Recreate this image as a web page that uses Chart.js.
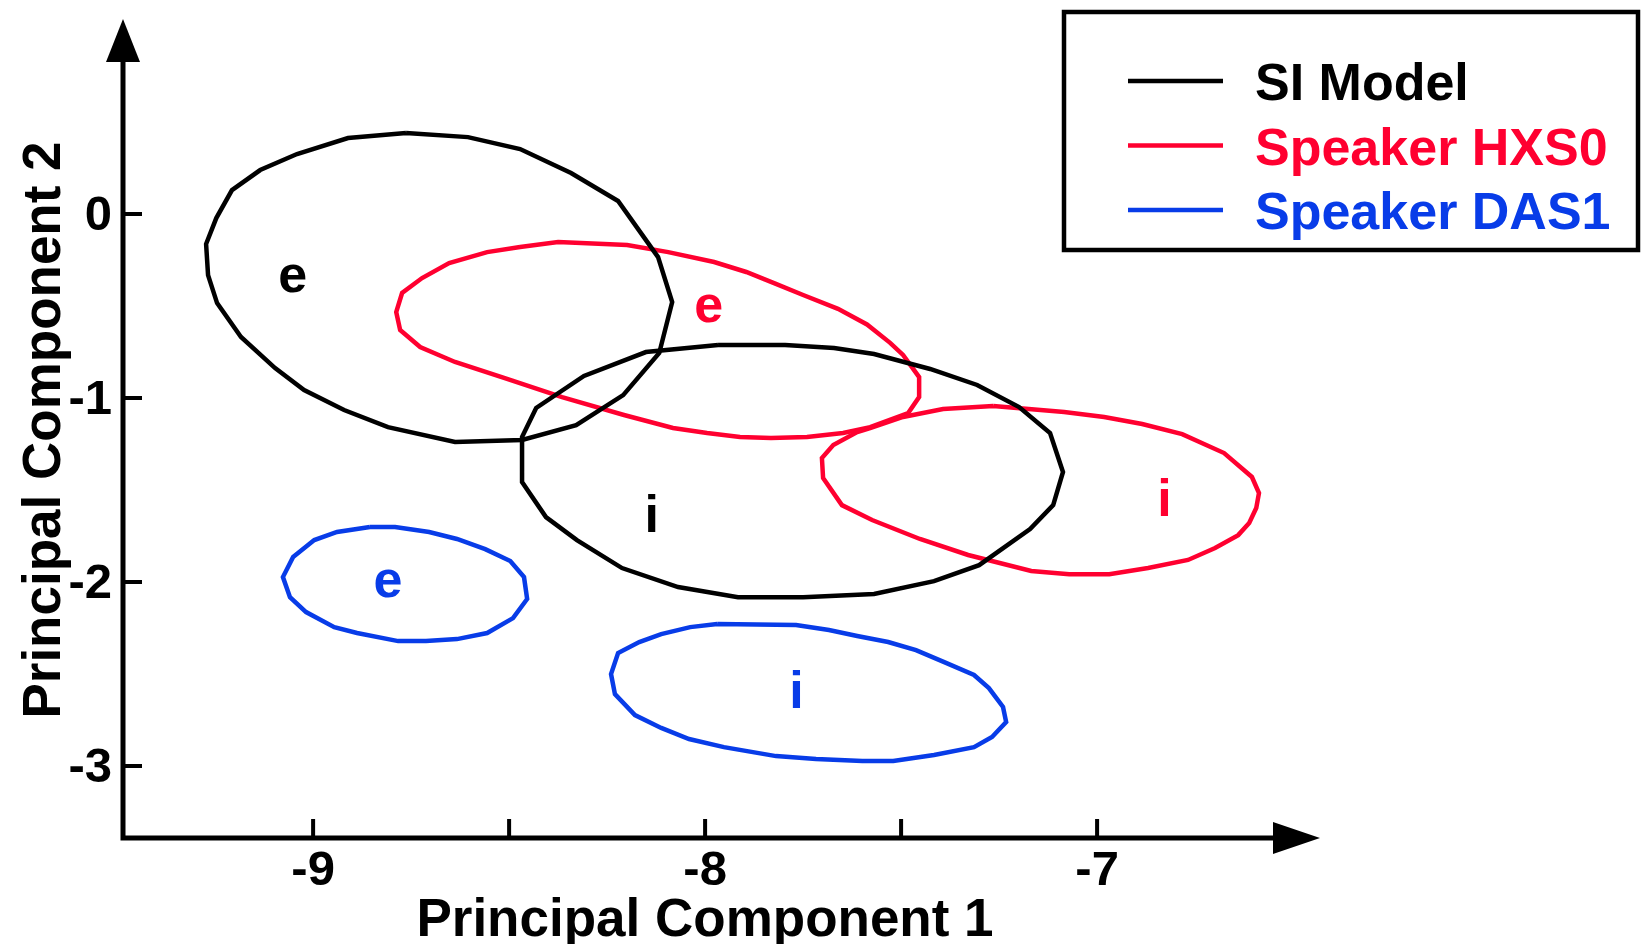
<!DOCTYPE html>
<html>
<head>
<meta charset="utf-8">
<script src="https://cdn.jsdelivr.net/npm/chart.js@4.4.1/dist/chart.umd.min.js"></script>
<style>
    html, body { margin: 0; padding: 0; background: #fff; }
    canvas { display: block; }
</style>
</head>
<body>
<canvas id="pcaChart" width="1646" height="944"></canvas>
<script>
// Series (legend entries) and their colours.
var seriesNames = ['SI Model', 'Speaker HXS0', 'Speaker DAS1'];
var seriesColors = ['#000000', '#ff0030', '#083ce8'];

// Axis ticks.
var xTicks = [-9, -8, -7];
var xMinorTicks = [-8.5, -7.5];
var yTicks = [0, -1, -2, -3];

// Contours, [PC1, PC2] pairs.
var siModelE = [
    [-8.763, 0.440], [-8.605, 0.418], [-8.472, 0.353], [-8.342, 0.223], [-8.222, 0.071],
    [-8.120, -0.234], [-8.084, -0.478], [-8.117, -0.755], [-8.209, -0.984], [-8.329, -1.147],
    [-8.467, -1.228], [-8.638, -1.239], [-8.809, -1.158], [-8.921, -1.065], [-9.023, -0.957],
    [-9.097, -0.837], [-9.184, -0.668], [-9.245, -0.484], [-9.268, -0.332], [-9.273, -0.163],
    [-9.247, -0.022], [-9.207, 0.130], [-9.135, 0.239], [-9.041, 0.326], [-8.911, 0.413]
];
var siModelI = [
    [-7.967, -0.712], [-7.796, -0.712], [-7.671, -0.728], [-7.569, -0.761], [-7.426, -0.842],
    [-7.306, -0.929], [-7.199, -1.049], [-7.120, -1.190], [-7.087, -1.402], [-7.112, -1.582],
    [-7.171, -1.712], [-7.301, -1.908], [-7.416, -1.995], [-7.569, -2.065], [-7.750, -2.082],
    [-7.916, -2.082], [-8.069, -2.027], [-8.212, -1.924], [-8.327, -1.772], [-8.406, -1.647],
    [-8.467, -1.457], [-8.467, -1.212], [-8.431, -1.054], [-8.309, -0.880], [-8.151, -0.750]
];
var hxs0E = [
    [-8.472, -0.179], [-8.375, -0.152], [-8.199, -0.168], [-8.094, -0.207], [-7.977, -0.261],
    [-7.895, -0.315], [-7.821, -0.378], [-7.750, -0.440], [-7.661, -0.515], [-7.587, -0.600],
    [-7.528, -0.700], [-7.495, -0.766], [-7.454, -0.886], [-7.454, -0.995], [-7.482, -1.082],
    [-7.579, -1.158], [-7.648, -1.190], [-7.740, -1.212], [-7.832, -1.217], [-7.911, -1.212],
    [-7.995, -1.190], [-8.082, -1.163], [-8.207, -1.092], [-8.365, -0.995], [-8.513, -0.891],
    [-8.638, -0.804], [-8.727, -0.723], [-8.778, -0.630], [-8.788, -0.533], [-8.773, -0.429],
    [-8.722, -0.348], [-8.653, -0.266], [-8.556, -0.207]
];
var hxs0I = [
    [-7.265, -1.043], [-7.084, -1.076], [-6.982, -1.103], [-6.885, -1.141], [-6.783, -1.196],
    [-6.676, -1.299], [-6.605, -1.429], [-6.587, -1.516], [-6.594, -1.598], [-6.612, -1.679],
    [-6.640, -1.745], [-6.699, -1.815], [-6.768, -1.880], [-6.870, -1.924], [-6.969, -1.957],
    [-7.071, -1.957], [-7.168, -1.940], [-7.329, -1.853], [-7.452, -1.766], [-7.574, -1.663],
    [-7.651, -1.582], [-7.699, -1.435], [-7.702, -1.326], [-7.673, -1.255], [-7.612, -1.185],
    [-7.579, -1.163], [-7.495, -1.103], [-7.393, -1.060]
];
var das1E = [
    [-8.855, -1.701], [-8.791, -1.701], [-8.704, -1.728], [-8.633, -1.766], [-8.561, -1.821],
    [-8.497, -1.886], [-8.462, -1.973], [-8.454, -2.092], [-8.490, -2.196], [-8.556, -2.277],
    [-8.633, -2.310], [-8.712, -2.321], [-8.783, -2.321], [-8.888, -2.277], [-8.946, -2.245],
    [-9.018, -2.163], [-9.059, -2.082], [-9.077, -1.973], [-9.051, -1.864], [-8.997, -1.772],
    [-8.939, -1.728]
];
var das1I = [
    [-7.969, -2.228], [-7.768, -2.234], [-7.684, -2.261], [-7.612, -2.293], [-7.533, -2.326],
    [-7.462, -2.370], [-7.390, -2.435], [-7.314, -2.505], [-7.276, -2.576], [-7.240, -2.679],
    [-7.232, -2.761], [-7.268, -2.842], [-7.314, -2.897], [-7.416, -2.940], [-7.520, -2.973],
    [-7.599, -2.973], [-7.717, -2.962], [-7.819, -2.946], [-7.952, -2.897], [-8.041, -2.853],
    [-8.112, -2.793], [-8.179, -2.723], [-8.230, -2.609], [-8.240, -2.500], [-8.222, -2.386],
    [-8.168, -2.326], [-8.112, -2.283], [-8.038, -2.245]
];

// Vowel labels: text, series index, PC1, PC2 (baseline point).
var vowelLabels = [
    ['e', 0, -9.052, -0.424],
    ['i', 0, -8.136, -1.728],
    ['e', 1, -7.991, -0.587],
    ['i', 1, -6.828, -1.639],
    ['e', 2, -8.809, -2.082],
    ['i', 2, -7.767, -2.682]
];

var FONT = '"Liberation Sans", Arial, Helvetica, sans-serif';

function toPoints(pairs) {
    // Close the contour by repeating the first vertex.
    var pts = pairs.map(function(p) {
        return {x: p[0], y: p[1]};
    });
    pts.push({x: pairs[0][0], y: pairs[0][1]});
    return pts;
}

function contour(pairs, series) {
    return {
        label: seriesNames[series],
        series: series,
        data: toPoints(pairs),
        showLine: true,
        fill: false,
        tension: 0,
        borderColor: seriesColors[series],
        borderWidth: 4.5,
        borderJoinStyle: 'miter',
        pointRadius: 0,
        pointHoverRadius: 0
    };
}

var axesPlugin = {
    id: 'paperAxes',
    afterDraw: function(chart) {
        var ctx = chart.ctx;
        var xs = chart.scales.x;
        var ys = chart.scales.y;
        var area = chart.chartArea;
        var ox = area.left;
        var oy = area.bottom;
        var tickLen = 19;

        ctx.save();
        ctx.strokeStyle = '#000';
        ctx.fillStyle = '#000';
        ctx.lineWidth = 5;
        ctx.lineCap = 'butt';

        // Axis lines.
        ctx.beginPath();
        ctx.moveTo(ox, oy + 2.5);
        ctx.lineTo(ox, area.top + 40);
        ctx.moveTo(ox - 2.5, oy);
        ctx.lineTo(area.right - 40, oy);
        ctx.stroke();

        // Arrow heads.
        ctx.beginPath();
        ctx.moveTo(ox, area.top - 2);
        ctx.lineTo(ox - 17, area.top + 41);
        ctx.lineTo(ox + 17, area.top + 41);
        ctx.closePath();
        ctx.fill();
        ctx.beginPath();
        ctx.moveTo(area.right + 3, oy);
        ctx.lineTo(area.right - 44, oy - 16);
        ctx.lineTo(area.right - 44, oy + 16);
        ctx.closePath();
        ctx.fill();

        // Ticks, drawn inward.
        ctx.lineWidth = 4;
        ctx.beginPath();
        xTicks.concat(xMinorTicks).forEach(function(v) {
            var px = xs.getPixelForValue(v);
            ctx.moveTo(px, oy);
            ctx.lineTo(px, oy - tickLen);
        });
        yTicks.forEach(function(v) {
            var py = ys.getPixelForValue(v);
            ctx.moveTo(ox, py);
            ctx.lineTo(ox + tickLen, py);
        });
        ctx.stroke();

        // Tick labels.
        ctx.font = 'bold 49px ' + FONT;
        ctx.textAlign = 'center';
        ctx.textBaseline = 'alphabetic';
        xTicks.forEach(function(v) {
            ctx.fillText(String(v), xs.getPixelForValue(v), oy + 47);
        });
        ctx.textAlign = 'right';
        ctx.textBaseline = 'middle';
        yTicks.forEach(function(v) {
            ctx.fillText(String(v), ox - 11, ys.getPixelForValue(v) + 2);
        });

        // Axis titles.
        ctx.font = 'bold 53px ' + FONT;
        ctx.textAlign = 'center';
        ctx.textBaseline = 'alphabetic';
        ctx.fillText('Principal Component 1', 705, 936);
        ctx.save();
        ctx.translate(60, 430);
        ctx.rotate(-Math.PI / 2);
        ctx.fillText('Principal Component 2', 0, 0);
        ctx.restore();

        // Vowel labels inside each contour.
        ctx.font = 'bold 52px ' + FONT;
        vowelLabels.forEach(function(l) {
            ctx.fillStyle = seriesColors[l[1]];
            ctx.fillText(l[0], xs.getPixelForValue(l[2]), ys.getPixelForValue(l[3]));
        });

        // Legend box.
        ctx.fillStyle = '#fff';
        ctx.fillRect(1062, 10, 578, 242);
        ctx.lineWidth = 4.5;
        ctx.strokeStyle = '#000';
        ctx.strokeRect(1064, 12, 574, 238);
        ctx.textAlign = 'left';
        ctx.font = 'bold 52px ' + FONT;
        seriesNames.forEach(function(name, i) {
            var ly = 81 + i * 64.5;
            ctx.strokeStyle = seriesColors[i];
            ctx.lineWidth = 4.5;
            ctx.beginPath();
            ctx.moveTo(1128, ly);
            ctx.lineTo(1223, ly);
            ctx.stroke();
            ctx.fillStyle = seriesColors[i];
            ctx.fillText(name, 1255, ly + 19);
        });

        ctx.restore();
    }
};

new Chart(document.getElementById('pcaChart').getContext('2d'), {
    type: 'scatter',
    data: {
        datasets: [
            contour(siModelE, 0),
            contour(siModelI, 0),
            contour(hxs0E, 1),
            contour(hxs0I, 1),
            contour(das1E, 2),
            contour(das1I, 2)
        ]
    },
    options: {
        responsive: false,
        animation: false,
        events: [],
        layout: {
            padding: {left: 123, right: 329, top: 21, bottom: 106}
        },
        scales: {
            x: {
                type: 'linear',
                display: false,
                min: -9.485,
                max: -6.439
            },
            y: {
                type: 'linear',
                display: false,
                min: -3.391,
                max: 1.049
            }
        },
        plugins: {
            legend: {display: false},
            tooltip: {enabled: false}
        }
    },
    plugins: [axesPlugin]
});
</script>
</body>
</html>
